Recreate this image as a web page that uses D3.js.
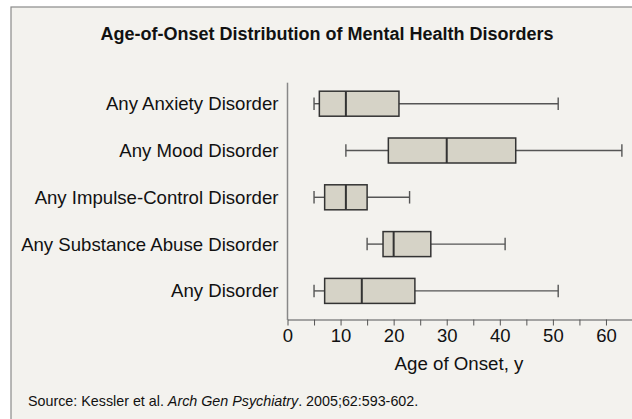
<!DOCTYPE html>
<html>
<head>
<meta charset="utf-8">
<script src="https://cdn.jsdelivr.net/npm/d3@7"></script>
<style>
  body { margin: 0; background: #ffffff; }
  svg text { font-family: "Liberation Sans", Arial, Helvetica, sans-serif; fill: #111; }
</style>
</head>
<body>
<div id="chart"></div>
<script>
// disorder categories, top to bottom
var categories = ["Any Anxiety Disorder", "Any Mood Disorder", "Any Impulse-Control Disorder",
  "Any Substance Abuse Disorder", "Any Disorder"];
// age of onset (years): whisker ends, quartiles and median
var whiskerLow  = [5, 11, 5, 15, 5];
var q1          = [6, 19, 7, 18, 7];
var median      = [11, 30, 11, 20, 14];
var q3          = [21, 43, 15, 27, 24];
var whiskerHigh = [51, 63, 23, 41, 51];
var tickValues = [0, 5, 10, 15, 20, 25, 30, 35, 40, 45, 50, 55, 60];

var width = 632, height = 419;

var svg = d3.select("#chart").append("svg")
  .attr("width", width)
  .attr("height", height);

// frame panel
svg.append("rect")
  .attr("x", 11).attr("y", 7)
  .attr("width", width + 10).attr("height", height + 10)
  .attr("fill", "#f3f2ee")
  .attr("stroke", "#8a8a8a")
  .attr("stroke-width", 1.2);

svg.append("text")
  .attr("x", 327).attr("y", 39.5)
  .attr("text-anchor", "middle")
  .style("font-size", "18px")
  .style("font-weight", "bold")
  .text("Age-of-Onset Distribution of Mental Health Disorders");

var x = d3.scaleLinear().domain([0, 65]).range([287.5, 632.5]);
var y = d3.scaleBand().domain(categories).range([80.3, 314.3]);

var rows = categories.map(function (c, i) {
  return { name: c, lo: whiskerLow[i], q1: q1[i], med: median[i], q3: q3[i], hi: whiskerHigh[i] };
});

// x axis
var xAxis = svg.append("g")
  .attr("transform", "translate(0,319.5)")
  .call(d3.axisBottom(x).tickValues(tickValues).tickSize(6).tickSizeOuter(0)
    .tickFormat(function (d) { return d % 10 === 0 ? d : ""; }));
xAxis.select(".domain").attr("stroke", "#888").attr("stroke-width", 1.5);
xAxis.selectAll(".tick line").attr("stroke", "#555").attr("stroke-width", 1);
xAxis.selectAll(".tick text")
  .attr("y", 9)
  .style("font-size", "18.5px")
  .attr("fill", "#111");

// y axis line (no ticks)
svg.append("line")
  .attr("x1", x(0)).attr("x2", x(0))
  .attr("y1", 82.7).attr("y2", 320)
  .attr("stroke", "#888").attr("stroke-width", 1.5);

svg.append("text")
  .attr("x", 459).attr("y", 369.5)
  .attr("text-anchor", "middle")
  .style("font-size", "18.7px")
  .text("Age of Onset, y");

// category labels
svg.selectAll(".cat")
  .data(rows)
  .enter().append("text")
  .attr("class", "cat")
  .attr("x", 278.5)
  .attr("y", function (d) { return y(d.name) + y.bandwidth() / 2; })
  .attr("dy", "0.35em")
  .attr("text-anchor", "end")
  .style("font-size", "18.6px")
  .text(function (d) { return d.name; });

var boxH = 25, capH = 12.5;
var g = svg.selectAll(".box")
  .data(rows)
  .enter().append("g")
  .attr("class", "box")
  .attr("transform", function (d) { return "translate(0," + (y(d.name) + y.bandwidth() / 2) + ")"; });

// whiskers
g.append("line")
  .attr("x1", function (d) { return x(d.lo); })
  .attr("x2", function (d) { return x(d.q1); })
  .attr("stroke", "#555").attr("stroke-width", 1.4);
g.append("line")
  .attr("x1", function (d) { return x(d.q3); })
  .attr("x2", function (d) { return x(d.hi); })
  .attr("stroke", "#555").attr("stroke-width", 1.4);
g.append("line")
  .attr("x1", function (d) { return x(d.lo); })
  .attr("x2", function (d) { return x(d.lo); })
  .attr("y1", -capH / 2).attr("y2", capH / 2)
  .attr("stroke", "#555").attr("stroke-width", 1.4);
g.append("line")
  .attr("x1", function (d) { return x(d.hi); })
  .attr("x2", function (d) { return x(d.hi); })
  .attr("y1", -capH / 2).attr("y2", capH / 2)
  .attr("stroke", "#555").attr("stroke-width", 1.4);

// boxes
g.append("rect")
  .attr("x", function (d) { return x(d.q1); })
  .attr("y", -boxH / 2)
  .attr("width", function (d) { return x(d.q3) - x(d.q1); })
  .attr("height", boxH)
  .attr("fill", "#d6d3c7")
  .attr("stroke", "#333")
  .attr("stroke-width", 1.5);

// medians
g.append("line")
  .attr("x1", function (d) { return x(d.med); })
  .attr("x2", function (d) { return x(d.med); })
  .attr("y1", -boxH / 2).attr("y2", boxH / 2)
  .attr("stroke", "#333").attr("stroke-width", 2);

// source note
var src = svg.append("text")
  .attr("x", 28).attr("y", 405.5)
  .style("font-size", "14.3px");
src.append("tspan").text("Source: Kessler et al. ");
src.append("tspan").style("font-style", "italic").text("Arch Gen Psychiatry");
src.append("tspan").text(". 2005;62:593-602.");
</script>
</body>
</html>
